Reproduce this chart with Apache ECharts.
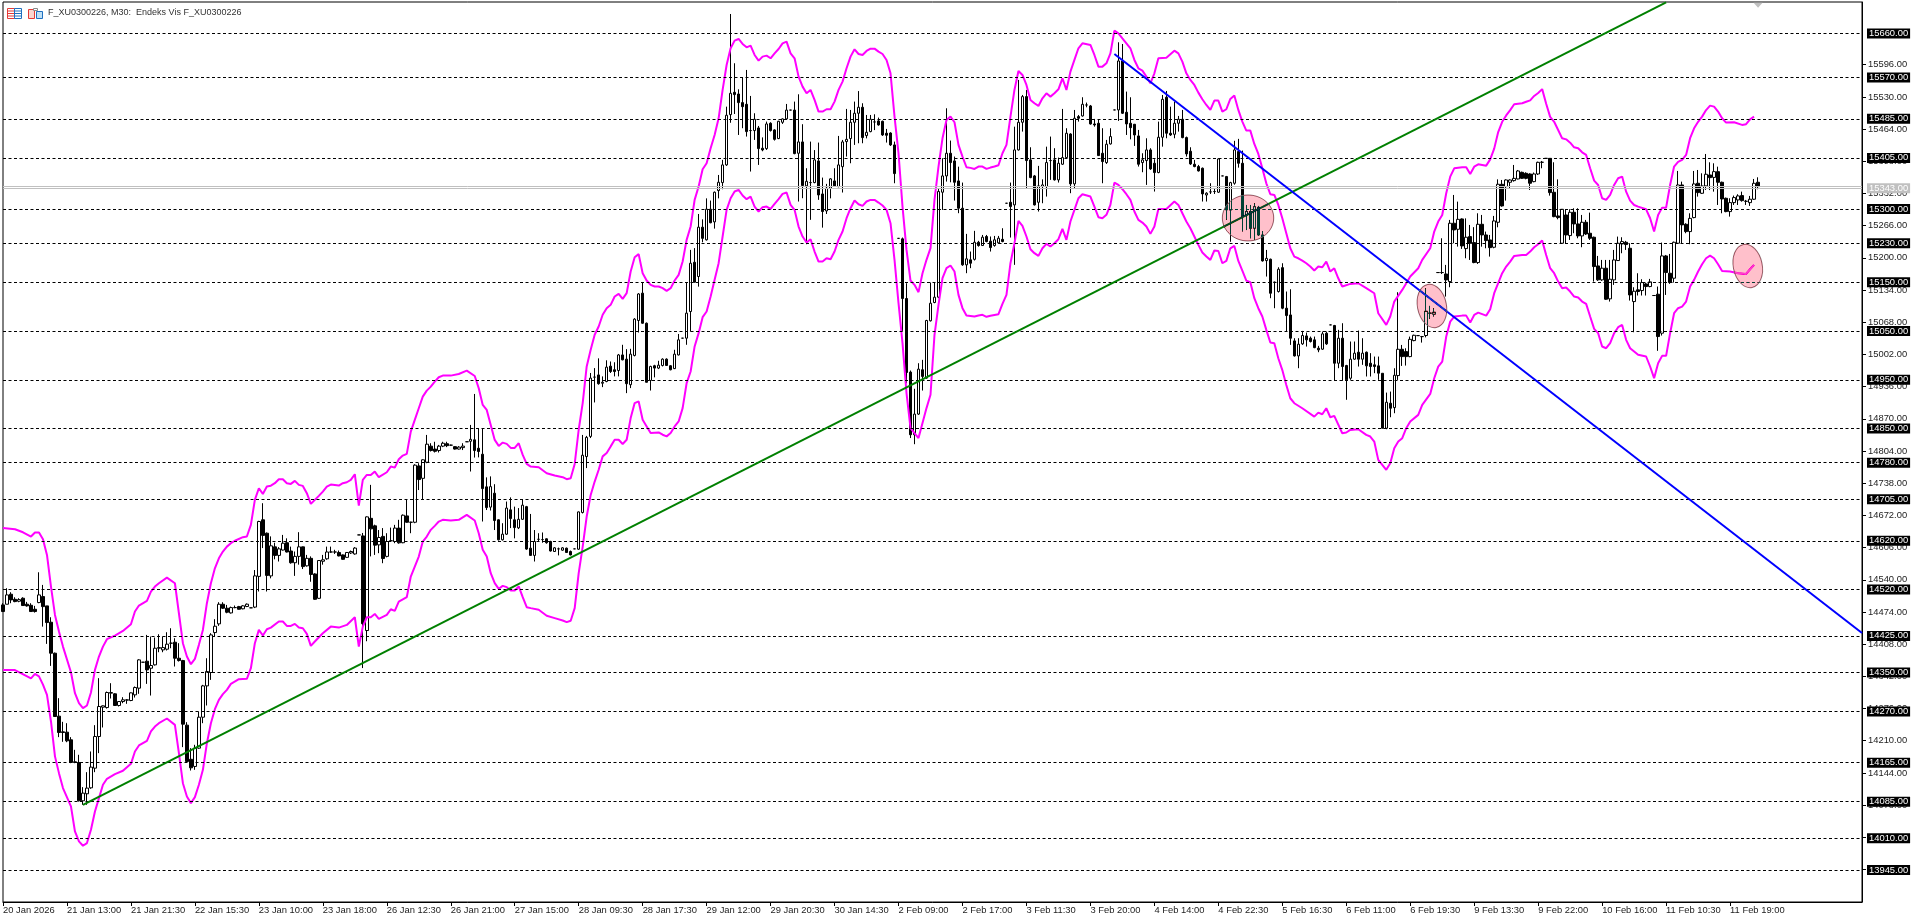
<!DOCTYPE html>
<html>
<head>
<meta charset="utf-8">
<title>F_XU0300226, M30</title>
<style>
  html, body { margin: 0; padding: 0; background: #fff; }
  #chart { width: 1920px; height: 923px; }
</style>
<script src="https://cdn.jsdelivr.net/npm/echarts@6/dist/echarts.min.js"></script>
</head>
<body>
<div id="chart"></div>
<script>
const chartTitle = "F_XU0300226, M30:  Endeks Vis F_XU0300226";

// one label every 16 bars
const timeLabels = [
  "20 Jan 2026", "21 Jan 13:00", "21 Jan 21:30", "22 Jan 15:30", "23 Jan 10:00", "23 Jan 18:00", "26 Jan 12:30",
  "26 Jan 21:00", "27 Jan 15:00", "28 Jan 09:30", "28 Jan 17:30", "29 Jan 12:00", "29 Jan 20:30", "30 Jan 14:30",
  "2 Feb 09:00", "2 Feb 17:00", "3 Feb 11:30", "3 Feb 20:00", "4 Feb 14:00", "4 Feb 22:30", "5 Feb 16:30",
  "6 Feb 11:00", "6 Feb 19:30", "9 Feb 13:30", "9 Feb 22:00", "10 Feb 16:00", "11 Feb 10:30", "11 Feb 19:00",
];

const priceTicks = [
  15596, 15530, 15464, 15398, 15332, 15266, 15200, 15134, 15068, 15002, 14936, 14870, 14804, 14738, 14672,
  14606, 14540, 14474, 14408, 14342, 14276, 14210, 14144, 14078, 14012, 13946,
];

const levels = [
  15660, 15570, 15485, 15405, 15300, 15230, 15150, 15050, 14950, 14850, 14780, 14705, 14620, 14520, 14425,
  14350, 14270, 14165, 14085, 14010, 13945,
];

const bidPrice = 15343;
const askPrice = 15346;

// open, close, low, high
const candles = [
  [14488.5,14474.9,14474,14492],[14489.9,14509,14489.9,14522.7],[14510.4,14498.8,14492,14514.5],[14500,14495.3,14494,14504.2],
  [14496,14499.4,14494,14502.2],[14502.2,14487.2,14487.2,14504.2],[14490,14486.5,14485,14494.7],[14487.8,14474.9,14474.9,14492],
  [14479.6,14474.9,14472.8,14486.5],[14493.3,14509,14492,14555.4],[14505.6,14485,14444,14529.5],[14486.5,14452.3,14408.6,14486.5],
  [14453,14389.5,14363.5,14463.2],[14389.5,14259.7,14259.7,14390.8],[14260.4,14226.9,14217.4,14297.3],[14228.3,14226.9,14207.8,14248.8],
  [14227.6,14209.8,14207,14246],[14211.9,14165.5,14164,14217.4],[14166.8,14165.5,14164,14191.4],[14165.5,14086.9,14085.5,14181.2],
  [14086.9,14102.6,14078.7,14114.9],[14101.3,14112.9,14078.7,14145.6],[14113.5,14155.9,14111.5,14188],[14153.8,14218.7,14145.6,14242],
  [14218.7,14280.2,14184.6,14338.3],[14278.8,14281.6,14237.2,14282.3],[14278.1,14308.9,14276,14310.9],[14307.5,14308.9,14296.6,14328],
  [14306.2,14282.3,14281.6,14307.5],[14282.3,14290.4,14280.2,14291.1],[14290.4,14293.9,14287,14299.3],[14293.2,14293.9,14285.7,14295.2],
  [14292.5,14308.2,14291.1,14308.9],[14304.1,14319.1,14298.6,14321.2],[14317.8,14375.8,14306.2,14377.2],[14371,14371,14371,14371],
  [14373.1,14355.3,14326.6,14427],[14358.7,14364.2,14302.7,14423.6],[14365.6,14399.7,14364.2,14421.6],[14399.7,14401,14391.5,14428.4],
  [14396.3,14401,14391.5,14423.6],[14397.7,14408,14395,14432.5],[14410,14410,14399.7,14440.7],[14412,14379.2,14362.2,14420.2],
  [14379.2,14374.4,14372.4,14410],[14374.4,14244,14196.9,14375.8],[14242,14167.5,14166.1,14248.1],[14172,14154.5,14149,14194.8],
  [14157.3,14194.8,14150.4,14201.7],[14194.8,14258.3,14193.4,14270],[14258.3,14322.5,14246,14324.6],[14322.5,14351.9,14282.3,14379.2],
  [14349.9,14427,14334.8,14430.5],[14431.8,14444.8,14423.6,14459.2],[14449.6,14489.9,14445.5,14494],[14489.9,14481.7,14480.3,14494],
  [14481.7,14473.5,14471.4,14488.5],[14472.1,14483,14470.8,14485],[14483,14483,14481.7,14487.2],[14485,14479.6,14479,14486.5],
  [14480.5,14486.6,14479.5,14488],[14485.3,14490,14484,14491.5],[14482.5,14482.5,14482.5,14482.5],[14484,14548,14482,14560],
  [14547,14659.5,14516,14661],[14663,14631,14605,14697],[14635.5,14549,14516,14637],[14548,14609.6,14543,14629],
  [14607.5,14590,14582,14616],[14590,14603.4,14577.5,14607],[14601,14615,14600,14632],[14616,14597,14596,14625],
  [14599,14575,14573,14608],[14575,14588,14548,14598],[14588,14607.5,14571,14637.6],[14607.5,14567,14562,14608],
  [14568.6,14584,14567,14591],[14584,14551,14536,14588],[14552,14500,14499,14553.5],[14502,14579.5,14501,14580],
  [14578,14581,14571,14591],[14583,14597,14581,14608],[14597,14597,14595.5,14608],[14597,14597,14593,14601.5],
  [14596,14589,14588,14600],[14591,14582,14581,14592],[14586,14596,14585,14597],[14595,14598,14593,14600],
  [14593,14605,14591.5,14607],[14632,14632,14632,14632],[14630,14450,14359,14636],[14436,14669,14414,14670],
  [14666,14644.4,14588,14734.6],[14650.6,14611,14591,14653],[14611.6,14626.7,14594.6,14642],[14629,14583.6,14574,14646],
  [14588,14618.5,14586,14635.5],[14620,14620,14618.5,14647],[14618.5,14646,14615,14652.6],[14646,14615.7,14614,14663],
  [14616,14672.4,14615,14674],[14671,14658,14657,14705],[14658,14658,14635.5,14659],[14658,14775,14656,14777],
  [14773.5,14745.5,14724,14779],[14748,14786,14704,14787],[14781,14818,14779,14837],[14814,14805,14803,14820],
  [14808,14803.5,14801,14823],[14805,14814,14801,14816.5],[14814,14820,14812,14823],[14819,14815,14812,14823],
  [14816,14816,14815,14817],[14813,14808,14807,14814],[14808,14812,14807,14814],[14811,14814,14806,14820],
  [14823,14823,14823,14823],[14824,14828,14762,14857.5],[14827,14805,14790.6,14921],[14809.7,14803,14791,14850.7],
  [14797.4,14727,14659.5,14850.7],[14730.5,14688,14683,14750],[14689,14731,14682,14752],[14717.5,14661.5,14642,14736],
  [14663,14622,14620.5,14664],[14622,14633.5,14620.5,14656],[14633.5,14687,14632,14700.4],[14683.4,14665.6,14646,14709],
  [14663,14647,14625,14690],[14646.5,14664,14644,14687],[14664,14693,14663,14704],[14690,14603,14601.4,14691.5],
  [14604.8,14590,14589,14675],[14590,14618.5,14577.5,14642],[14623,14623,14618,14635.5],[14622.5,14622.5,14616,14637],
  [14624,14616,14614,14625],[14618.5,14599,14598,14620],[14598,14605.5,14597,14607],[14603.4,14603.4,14590,14606],
  [14600.7,14605.5,14599.5,14607],[14604.8,14596,14595,14606],[14598,14591,14590,14600],[14603.4,14603.4,14603.4,14603.4],
  [14602.7,14679.2,14601.5,14680],[14678,14795.4,14676,14837],[14792.6,14832,14769,14835],[14834,14953.5,14830.6,14964],
  [14955.5,14955.5,14903.6,14974],[14960,14942,14940,14994],[14943,14945,14935,14957],[14946.6,14976,14945,14990],
  [14978,14967,14964,14987.6],[14970.6,14967,14957,14986],[14969,15001,14957,15003],[15001,14991,14990,15021.8],
  [14992.4,14942,14922.7,15012.9],[14940,15002.6,14933,15013.6],[15000,15074.4,14998,15076.4],[15071.6,15126,15047,15127.7],
  [15127.7,15066,15065,15150],[15066,14945,14944.6,15067.5],[14948.7,14977.4,14928,14978.8],[14978.8,14974,14955,14980.8],
  [14974,14980,14972,14989],[14979.4,14992.4,14977.4,14994],[14992.4,14979.4,14978.8,14994],[14978.8,14970.6,14969.5,14980],
  [14973,15002.6,14972,15011.6],[15001,15032,15000,15044],[15035.4,15035.4,15035.4,15035.4],[15035.4,15086.7,15021.8,15150],
  [15090,15189,15049,15216.4],[15191,15150,15150,15220],[15161.8,15262.9,15141,15290],[15262.9,15240,15232,15279],
  [15237,15299.8,15235.6,15322],[15299.8,15272,15271,15317.5],[15273.8,15334.6,15260,15336],[15338,15355,15322,15370],
  [15354.4,15390.6,15340.7,15400.9],[15390.6,15492.4,15388.6,15510],[15493.7,15537.4,15477,15700],[15539.5,15534.7,15495,15599],
  [15536,15518.3,15452,15545.6],[15518.3,15510,15465.8,15569.6],[15514.9,15458.9,15448.7,15585.3],[15461,15461,15377,15532],
  [15461,15484.2,15441.8,15496.5],[15466.4,15424,15390.6,15470.5],[15424.8,15421.3,15418.6,15447],[15424,15474.6,15421.3,15479.4],
  [15476,15461,15459,15478],[15462.3,15443,15440.5,15463.7],[15444.6,15480,15443.5,15481],[15478,15484.9,15474.6,15486],
  [15484.9,15503,15484.2,15515.6],[15503,15503,15503,15503],[15503,15413.8,15412.4,15520.4],[15414.5,15437.7,15315.5,15535.4],
  [15437.7,15348.3,15322.3,15474],[15347.6,15357,15228,15383.8],[15354.4,15354.4,15278,15438.4],[15354.4,15400.9,15353,15421],
  [15398.8,15329,15319,15436.4],[15331,15295,15262,15364.6],[15296.3,15342.8,15290,15351.7],[15342.8,15362,15322,15363.3],
  [15357.8,15347.6,15346,15383.8],[15346,15390.6,15344.8,15450],[15387,15437.7,15334,15441.8],[15438.4,15443,15407.7,15505.4],
  [15444.6,15478,15394,15503.3],[15478,15496.5,15431.6,15520.4],[15496.5,15508.8,15435,15542],[15508.8,15446.6,15435,15517],
  [15450.7,15457.5,15445,15493],[15458.9,15484.2,15457.5,15493],[15478.7,15478.7,15462,15494.4],[15480.8,15472.6,15471,15487.6],
  [15480,15452,15450,15481.4],[15455.5,15451.4,15436.4,15464.4],[15456,15431.6,15429.5,15457.5],[15431.6,15372.8,15353,15438.4],
  [15240,15240,15240,15240],[15239,15116.7,15049,15241.7],[15116.7,14965,14943,15148],[14965.8,14837.4,14830.6,14969],
  [14837.4,14879.7,14818,14931.6],[14879.7,14971.9,14878,14984],[14970.6,14956.9,14928,14991],[14953.5,15071.6,14952,15073],
  [15071,15107,15069.6,15149.5],[15108.5,15119.4,15107,15149.5],[15119.4,15336,15117.4,15342.8],[15334.6,15368,15298.4,15404.3],
  [15368,15414.5,15356.4,15506.7],[15414.5,15395.4,15355,15440.5],[15398.8,15355,15317.5,15407.7],[15357.8,15301.8,15291.6,15387],
  [15301.8,15185.7,15183.7,15354.4],[15185.7,15198,15168.6,15249.2],[15196,15189,15178.9,15213],[15197,15232,15194.6,15255.4],
  [15232,15225.3,15223,15234.9],[15225.3,15242.4,15224.6,15247],[15243.8,15233.5,15232,15247],[15234.2,15221.2,15213,15243.8],
  [15225.3,15237,15223,15245],[15230.8,15240.3,15229,15245],[15238,15233.5,15232,15260.8],[15312,15312,15312,15312],
  [15314,15305.2,15241.7,15354.4],[15308.6,15421.3,15185.7,15469],[15421.3,15478,15420,15564.8],[15478,15530.6,15458.9,15534],
  [15530.6,15399.5,15341.4,15544.3],[15400.9,15364.6,15363.3,15426.8],[15368,15308.6,15307.3,15370],[15314,15347.6,15295,15388.6],
  [15346.2,15349.6,15312,15361],[15346.2,15395.4,15325.7,15428],[15399.5,15399.5,15359.9,15448.7],[15400.9,15359.9,15358.5,15424.8],
  [15359.9,15394,15354.4,15405.6],[15392,15405.6,15390.6,15505.4],[15405.6,15455.5,15404.3,15465.8],[15454,15351.7,15332.6,15455.5],
  [15351.7,15486.2,15342.8,15503.3],[15489.6,15486.2,15479.4,15493],[15491,15514.9,15489.6,15529.3],[15513.5,15513.5,15508.7,15518.4],
  [15511.5,15474.6,15473.2,15513.5],[15474.6,15472.6,15469,15484.9],[15476,15409.7,15409,15484.2],[15414.5,15397.4,15353,15465.8],
  [15395.4,15433,15392.6,15441.8],[15433.6,15448.7,15432.3,15465.8],[15503.3,15503.3,15503.3,15503.3],[15503.3,15603.7,15480.8,15642],
  [15603.7,15496.5,15495,15638.5],[15498.5,15474.6,15452,15540.9],[15476,15467,15443,15529.3],[15473.9,15452,15429.5,15474.6],
  [15450,15392,15387.2,15462.3],[15395.4,15400.9,15375.6,15414.5],[15399.5,15421.3,15349.6,15445.2],[15421.3,15382.4,15380.4,15424.8],
  [15394,15374.9,15336,15402.2],[15374.9,15447.3,15373.5,15479.4],[15447.3,15525,15428,15534],[15529.3,15455.5,15445.2,15542.2],
  [15455.5,15452,15450,15510],[15453.4,15476,15445.2,15520.4],[15476,15484.2,15458.9,15491],[15484.2,15446.6,15445.2,15503.3],
  [15446.6,15413.2,15407.7,15448.7],[15418.6,15392.6,15390.6,15426.8],[15392,15387.2,15385.8,15400.9],[15387.2,15378.3,15377,15390.6],
  [15383.8,15331.2,15315.5,15385.2],[15329,15332.6,15315.5,15334.6],[15335.3,15335.3,15331,15353],[15336,15336,15331,15343],
  [15334.6,15402.9,15333.2,15404.3],[15368,15368,15368,15368],[15366.7,15298.4,15278,15368],[15298,15354.3,15233,15356],
  [15353,15421.3,15350,15440],[15418,15394,15385,15444],[15394,15285,15254,15420],[15288,15295,15257,15308.5],
  [15295,15260.7,15240,15308.5],[15260.7,15305,15237,15312],[15303.7,15247,15245,15306.5],[15247,15193.8,15192.4,15255],
  [15194.4,15199,15161.7,15216.3],[15197.2,15127.5,15117.3,15198.5],[15150,15150,15096.8,15151.4],[15131,15176.7,15128.9,15180.8],
  [15180,15096.8,15094.7,15189],[15096.8,15081.7,15049,15131],[15083,15035.3,15021.6,15135.7],[15029.8,14999,14997.7,15035.3],
  [14999,15023,14973.8,15035.3],[15023.7,15040.8,15021.6,15050.3],[15040,15031.9,15018.2,15046.9],[15035.3,15028.5,15026.5,15038.7],
  [15031.9,15016,15014.8,15038.7],[15014.8,15011.4,15006.6,15019.6],[15012.8,15044.2,15011.4,15049],[15045.5,15023.7,15021.6,15049],
  [15062.6,15062.6,15062.6,15062.6],[15061.3,14984,14947.9,15062.6],[14984,15035.3,14973.8,15052.4],[15035.3,14977.2,14947.9,15066],
  [14979.3,14950,14909,14980.7],[14953.3,14992.3,14950,15028.5],[14992.3,15004.6,14991,15028.5],[15006.6,14992.3,14977.2,15051],
  [14992.3,15004.6,14980.7,15035.3],[15006.6,14978.6,14956.8,15008],[14984,14977.2,14956.8,15004.6],[14980.7,14977.2,14963.6,14997.7],
  [14978.6,14963.6,14950,14997.7],[14963.4,14850.7,14850.7,14963.4],[14850.7,14904,14848.7,14923.8],[14902,14891.7,14873.3,14925.9],
  [14893,14959.3,14881.5,14973.7],[14958.7,15012.6,14949.8,15129.6],[15012.6,14997.6,14978.5,15021.5],[15007.8,14997.6,14979.2,15014.7],
  [14997.6,15033,14996.2,15038.6],[15030.4,15041.3,15029,15042.5],[15040.6,15040.6,15040.6,15040.6],[15038.6,15038.6,15026.3,15039.9],
  [15040.8,15090.6,15037,15137.8],[15086.6,15086.6,15075,15101.6],[15084.5,15088.6,15079.7,15096.8],[15169.9,15169.9,15169.9,15169.9],
  [15169.9,15169.9,15167,15240.2],[15167,15154.8,15120.7,15185.6],[15151.4,15271,15139.8,15277.8],[15271,15257.3,15230,15329],
  [15258.6,15279,15223.1,15315.3],[15279.8,15224.5,15218.4,15281],[15219,15242.3,15199.2,15281],[15243.6,15230,15195.8,15267.5],
  [15231.3,15190.4,15189,15263],[15190.4,15268.9,15187.6,15291.4],[15268.9,15247,15223,15288],[15247,15235.4,15219.7,15253.9],
  [15236.8,15221,15202.6,15247],[15221.8,15275.7,15219.7,15286],[15273,15350.9,15262.7,15361],[15350.9,15306.5,15305,15359.7],
  [15346,15359.7,15317.4,15361],[15355,15359.7,15341.3,15361],[15358.4,15363,15356.3,15390.5],[15361.8,15378.2,15361,15380.2],
  [15375.4,15363.1,15362,15376.8],[15373.4,15363,15361,15375.4],[15372,15353,15339.2,15373.4],[15356.3,15372,15355,15375],
  [15372,15395.9,15370,15397.3],[15396,15396,15383.7,15398.7],[15404,15404,15404,15404],[15404,15333.8,15327.6,15404],
  [15334.5,15284.6,15283.3,15396],[15286,15282.6,15279,15361],[15230,15299.6,15230,15299.6],[15288,15247,15230,15299.6],
  [15245.7,15293.5,15236.8,15299.6],[15293.5,15269.6,15250.5,15301.7],[15269.6,15245,15240.2,15301.7],[15245,15273,15221.8,15288],
  [15273,15249,15247,15277.8],[15250.5,15240.2,15236.8,15292.8],[15242.3,15182.2,15151.4,15243.6],[15183.5,15154.9,15152.8,15204],
  [15154.9,15178.8,15152.8,15195.8],[15178.8,15115.2,15113.9,15195.8],[15116,15156.2,15110.4,15195.8],[15154.9,15195.8,15144.6,15216.3],
  [15194.5,15230,15193.8,15243.6],[15228.6,15233.4,15209.5,15242.3],[15232,15227.3,15216.3,15234.8],[15219.7,15124,15112.5,15230],
  [15110.4,15131.6,15047.6,15139.8],[15134.4,15131,15122.8,15168.5],[15133,15149.4,15122.8,15156.2],[15146.6,15141.2,15122.8,15149.4],
  [15141.2,15150.8,15139.8,15156.9],[15122.8,15122.8,15122.8,15122.8],[15125.5,15038.7,15009.4,15141.2],[15045.6,15204,15040.8,15231.3],
  [15204,15169.9,15124,15206],[15168.5,15149.4,15146.7,15208.1],[15158.3,15232,15149.4,15233.4],[15230,15349.5,15228.6,15378.2],
  [15349.5,15267.6,15230,15356.3],[15268.9,15253.9,15250.5,15271],[15253.9,15281,15228,15291.4],[15282.6,15351.6,15281.2,15378.2],
  [15353,15333.8,15325.6,15380.2],[15332.4,15347.5,15331,15373.4],[15347.5,15371.4,15339.3,15413],[15370,15364.5,15339,15396],
  [15365,15376.8,15335.8,15393.9],[15376.8,15355,15308.5,15387],[15355,15320.8,15291.4,15356.3],[15322.2,15294.9,15293.5,15323.6],
  [15294.9,15313.3,15284.6,15322.2],[15313.3,15323.6,15308.5,15327.7],[15318.8,15327,15308.5,15330.4],[15327.7,15317.4,15315.3,15335.8],
  [15316,15316,15308.5,15318.8],[15313.3,15320.2,15306.5,15327],[15320.2,15352.9,15318.8,15361.8],[15355,15346,15340.6,15365.2],
];

// bar index, price at the line's vertices
const upperBand = [
  [0,14646.3],[3,14643.6],[5,14637.4],[7,14628.6],[8,14636.8],[9,14636.8],[10,14623.1],[11,14591],[12,14526],[13,14468],[14,14433.9],
  [15,14403],[17,14350.5],[18,14307.5],[19,14287],[20,14276.8],[21,14282.3],[22,14308.9],[23,14355.3],[24,14382.6],[25,14403],
  [26,14418.2],[28,14425.7],[30,14435.2],[32,14448.9],[33,14474.9],[34,14487.2],[36,14496.7],[37,14515.8],[38,14526.1],[39,14532.9],
  [41,14544.5],[43,14532.9],[44,14471.4],[45,14410],[46,14382.6],[47,14367],[48,14377.9],[49,14406.6],[50,14437.3],[51,14492],
  [52,14532.9],[53,14563.6],[54,14584.1],[55,14597.8],[56,14608],[57,14615],[58,14620],[60,14627.3],[61,14628.7],[62,14652.6],
  [63,14703.8],[64,14727.7],[65,14716],[66,14731.2],[67,14733],[68,14738],[69,14746.2],[70,14746.2],[71,14738],[72,14736.6],
  [73,14742.8],[74,14734.6],[75,14732.5],[76,14717.5],[77,14695.6],[78,14703.8],[79,14712],[80,14720.9],[81,14731.2],[82,14735.3],
  [84,14733.2],[85,14738],[86,14740],[87,14744.8],[88,14756.4],[89,14692.2],[90,14744.8],[91,14755],[92,14755],[93,14761.9],
  [94,14750.3],[96,14760.5],[97,14772.1],[98,14770],[99,14787.2],[100,14794.7],[101,14798.1],[102,14843.9],[103,14867.8],[104,14891.7],
  [105,14915.6],[106,14927.9],[107,14936],[108,14946.3],[109,14955.2],[110,14958.6],[112,14958.6],[114,14962],[116,14968.8],[118,14957.9],
  [119,14932.6],[120,14898.5],[121,14888.3],[122,14857.5],[123,14826.8],[124,14814.5],[125,14821.3],[126,14818.6],[127,14810.4],[128,14810.4],
  [129,14820],[130,14796],[131,14777.6],[132,14772.1],[134,14770.8],[136,14758.5],[138,14753.7],[140,14750.3],[141,14746.2],[142,14748.2],
  [143,14777.6],[144,14847.6],[145,14902.3],[146,14977.4],[147,15011.5],[148,15042.3],[149,15059.4],[150,15083.3],[151,15096.9],[152,15103.7],
  [153,15120.8],[154,15126.3],[155,15116],[156,15127.6],[157,15172.1],[158,15201.4],[159,15207.6],[160,15168.6],[161,15153.6],[162,15144.7],
  [163,15141.3],[164,15141.3],[165,15137.9],[166,15132.4],[167,15137.9],[168,15153.6],[169,15165.2],[170,15192.5],[171,15236.9],[172,15264.3],
  [173,15318.9],[174,15346.2],[175,15381.7],[176,15394],[177,15424.8],[178,15452],[179,15486.2],[180,15544.3],[181,15595.5],[182,15629.7],
  [183,15645.4],[184,15648.8],[185,15638.5],[186,15631.7],[187,15635.1],[188,15616],[189,15604.4],[190,15612.6],[191,15614.6],[192,15609.2],
  [193,15619.4],[194,15628.3],[195,15639.9],[196,15643.3],[197,15619.4],[198,15609.2],[199,15571.6],[200,15551.1],[201,15537.4],[202,15544.3],
  [203,15523.8],[204,15499.9],[205,15499.9],[206,15504.7],[207,15504.7],[208,15520.4],[209,15544.3],[210,15561.4],[211,15588.7],[212,15612.6],
  [213,15627.6],[214,15618],[215,15616],[216,15624.2],[217,15629],[218,15629],[219,15622.8],[220,15618],[221,15605.8],[222,15578.4],
  [223,15489.6],[224,15414.5],[225,15305.2],[226,15216.4],[227,15153.6],[228,15144.7],[229,15129.7],[230,15168.6],[231,15196],[232,15219.9],
  [233,15318.9],[234,15387.2],[235,15445.2],[236,15482.8],[237,15489.6],[238,15478],[239,15431.6],[240,15407.7],[241,15385.8],[242,15384.5],
  [243,15382.4],[244,15387.2],[245,15387.2],[246,15382.4],[247,15385.1],[248,15387.2],[249,15389.9],[250,15414.5],[251,15431.6],[252,15489.6],
  [253,15544.3],[254,15583.2],[255,15575],[256,15554.5],[257,15523.8],[258,15517],[259,15511.5],[260,15527.2],[261,15537.4],[262,15530.6],
  [263,15537.4],[264,15545.6],[265,15568.2],[266,15544.3],[267,15581.8],[268,15605.8],[269,15629.7],[270,15639.9],[272,15636.5],[273,15616],
  [274,15592.1],[275,15592.1],[276,15598.9],[277,15619.4],[278,15665.9],[279,15660.4],[280,15650.1],[281,15639.9],[282,15629.7],[283,15605.8],
  [284,15588.7],[285,15583.9],[286,15571.6],[287,15558],[288,15578.4],[289,15609.2],[291,15610.5],[293,15624.9],[294,15619.4],[295,15602.3],
  [296,15578.4],[297,15564.8],[298,15554.5],[299,15538.8],[300,15525.2],[301,15513.5],[302,15503.3],[303,15522.4],[304,15522.4],[305,15499.9],
  [306,15504.7],[307,15525.8],[308,15532.7],[309,15503.3],[310,15479.4],[311,15460.9],[312,15460.9],[313,15433.6],[314,15413],[315,15383.8],
  [316,15352.9],[317,15330.4],[318,15329],[319,15308.5],[320,15281.2],[321,15250.5],[322,15219.7],[323,15202.6],[324,15199.2],[325,15194.4],
  [326,15189],[327,15182.2],[328,15174],[329,15182.2],[330,15180.8],[331,15192.4],[332,15171.9],[333,15178.7],[334,15158.2],[335,15141.2],
  [337,15146.6],[339,15148],[341,15137.8],[343,15127.5],[344,15086.5],[346,15062.6],[347,15079.7],[348,15110.4],[350,15134.3],[351,15148],
  [352,15161.7],[354,15178.7],[355,15195.8],[357,15219.7],[358,15253.9],[359,15274.4],[360,15288],[361,15332.4],[362,15366.6],[363,15383.6],
  [365,15385.7],[366,15385.7],[367,15372],[368,15387],[369,15391.8],[371,15389.1],[372,15402],[373,15424],[374,15458],[375,15479],
  [376,15492],[377,15503],[378,15515],[380,15517],[381,15520],[382,15523],[383,15532],[384,15538],[385,15546],[386,15516],
  [387,15489],[388,15479],[389,15462.2],[390,15445.1],[391,15443],[392,15436.2],[393,15426.7],[394,15424.6],[395,15416.4],[396,15411],
  [397,15383.7],[398,15358.4],[399,15349.5],[400,15322.2],[401,15318.8],[402,15329],[403,15349.5],[404,15363.2],[405,15366.6],[406,15335.8],
  [407,15317.4],[408,15308.5],[409,15305.1],[411,15299.6],[412,15281.2],[413,15253.9],[414,15288],[415,15303],[416,15303],[417,15349.5],
  [418,15387.2],[419,15397],[420,15400.9],[421,15411.1],[422,15445.3],[423,15465.7],[424,15479],[425,15489.6],[426,15503],[427,15512.2],
  [428,15510.1],[429,15500],[430,15486.2],[431,15477.4],[433,15478],[435,15472.6],[436,15474],[437,15484],[438,15489.6],
];

const lowerBand = [
  [0,14355.3],[3,14355],[7,14338],[8,14347],[9,14342],[10,14325],[11,14304],[12,14249.5],[13,14178],[14,14143.6],[15,14112.9],
  [17,14075.3],[18,14024],[19,14003.6],[20,13994.7],[21,14000.2],[22,14027.5],[23,14065],[24,14092.4],[25,14119.7],[26,14132],
  [28,14141.5],[30,14148.4],[32,14162.7],[33,14188],[34,14200.3],[36,14209.8],[37,14229],[38,14239.2],[39,14246],[41,14255.6],
  [43,14242.6],[44,14184.6],[45,14123],[46,14095.8],[47,14082.1],[48,14094.4],[49,14119.7],[50,14150.4],[51,14205],[52,14246],
  [53,14274.7],[54,14293.9],[55,14305.5],[56,14314.4],[57,14326.6],[59,14336.2],[61,14336.9],[62,14358.7],[63,14410],[64,14437.3],
  [65,14425.7],[66,14438.7],[67,14442],[69,14454.4],[70,14454.4],[71,14445.5],[72,14445.5],[73,14449.6],[74,14442],[75,14440.7],
  [76,14429],[77,14404.5],[78,14413.4],[80,14430.5],[82,14444],[84,14442],[86,14447.5],[88,14463.2],[89,14403],[90,14444],
  [91,14463.2],[92,14463.2],[93,14470],[94,14459.8],[96,14468],[97,14479.6],[98,14476.2],[99,14495.3],[101,14504.4],[102,14546.7],
  [103,14567.2],[104,14587.7],[105,14618.5],[106,14628.7],[107,14642.4],[108,14650.6],[109,14659.4],[110,14662.9],[112,14661.5],[114,14662.9],
  [116,14673.1],[118,14661.5],[119,14635.5],[120,14601.4],[121,14587.7],[122,14553.6],[123,14533],[124,14521.5],[125,14527.6],[126,14524.9],
  [127,14518],[128,14518],[129,14526.3],[130,14504.4],[131,14483.9],[132,14481.9],[134,14478.5],[136,14466.2],[138,14461.4],[140,14456.6],
  [141,14453.2],[142,14455.9],[143,14481.9],[144,14553.6],[145,14608.2],[146,14669.7],[147,14714],[148,14741.4],[149,14765.7],[150,14793],
  [151,14799.8],[152,14813.5],[153,14827.1],[154,14827.1],[155,14818.3],[156,14827.1],[157,14871.5],[158,14902.3],[159,14905.7],[160,14868.1],
  [161,14854.5],[162,14840.8],[164,14842.2],[165,14837.4],[166,14834],[167,14840.8],[168,14854.5],[169,14864.7],[170,14892],[171,14943.2],
  [172,14967.1],[173,15018.4],[174,15045.7],[175,15078.5],[176,15090.1],[177,15120.8],[178,15155],[179,15189.1],[180,15243.8],[181,15298.4],
  [182,15322.3],[183,15336],[184,15339.4],[185,15327.8],[186,15320.3],[187,15325.7],[188,15305.2],[189,15295],[190,15303.9],[191,15305.2],
  [192,15300.4],[193,15310.7],[194,15320.3],[195,15331.2],[196,15333.9],[197,15308.6],[198,15298.4],[199,15264.2],[200,15243.8],[201,15231.5],
  [202,15238.3],[203,15213],[204,15192.5],[205,15192.5],[206,15199.4],[207,15197.3],[208,15213],[209,15236.9],[210,15254],[211,15281.3],
  [212,15301.8],[213,15317.5],[214,15310],[215,15306.6],[216,15315.5],[217,15318.9],[218,15318.9],[219,15313.4],[220,15307.3],[221,15298.4],
  [222,15271.1],[223,15195.9],[224,15107.2],[225,15025.2],[226,14922.8],[227,14851],[228,14840.8],[229,14830.5],[230,14861.3],[231,14892],
  [232,14919.3],[233,15042.3],[234,15103.7],[235,15158.4],[236,15178.9],[237,15184.3],[238,15172],[239,15124.2],[240,15096.9],[241,15081.9],
  [243,15079.8],[244,15081.9],[245,15083.3],[246,15079.2],[247,15081.2],[249,15084.6],[250,15105.8],[251,15124.2],[252,15189.1],[253,15230.1],
  [254,15275.9],[255,15265.6],[256,15243.8],[257,15217.8],[258,15209.6],[259,15204.1],[260,15219.8],[261,15228.7],[262,15223.3],[263,15230.1],
  [264,15238.3],[265,15259.5],[266,15236.9],[267,15274.5],[268,15298.4],[269,15322.3],[270,15330.5],[272,15325.7],[273,15305.2],[274,15283.4],
  [275,15281.3],[276,15288.2],[277,15308.6],[278,15354.4],[279,15349.6],[280,15340.7],[281,15330.5],[282,15318.9],[283,15295],[284,15277.9],
  [285,15272.4],[286,15264.2],[287,15249.2],[288,15264.2],[289,15300.4],[291,15300.4],[293,15315.5],[294,15308.6],[295,15291.6],[296,15274.5],
  [297,15260.8],[298,15243.8],[299,15226.7],[300,15211],[301,15202.8],[302,15195.9],[303,15215.1],[304,15214.2],[305,15189],[306,15193.8],
  [307,15219.7],[308,15224.5],[309,15193.8],[310,15174],[311,15153.5],[312,15150],[313,15117.3],[314,15096.8],[315,15079.7],[316,15052.4],
  [317,15026.4],[318,15025],[319,14994.3],[320,14970],[321,14939.5],[322,14912.2],[323,14902],[325,14891.7],[328,14874.6],[329,14882.8],
  [330,14879.4],[331,14891.7],[332,14873.3],[333,14876],[335,14840.5],[336,14841.9],[337,14847.3],[339,14848.7],[341,14837],[342,14833.7],
  [343,14823.4],[344,14785.9],[346,14765.4],[347,14779],[348,14809.8],[349,14823.4],[350,14830.3],[351,14850.7],[352,14864.4],[354,14878.1],
  [355,14898.5],[357,14921.1],[358,14953.2],[359,14977.1],[360,14987.3],[361,15038.6],[362,15069.3],[363,15079.6],[365,15081.6],[366,15081.6],
  [367,15067.3],[368,15083],[369,15087.8],[371,15081.6],[372,15094.6],[373,15127.5],[374,15148],[375,15168.5],[376,15182.2],[377,15192.4],
  [378,15204],[380,15206],[381,15206],[382,15212.9],[383,15221.8],[384,15227.9],[385,15235.4],[386,15206],[387,15178.8],[388,15168.5],
  [389,15151.4],[390,15137.8],[391,15139.1],[392,15130.9],[393,15120.7],[394,15118.7],[395,15110.5],[396,15105.7],[397,15079.7],[398,15054.4],
  [399,15045.6],[400,15018.2],[401,15014.8],[402,15025.1],[403,15045.6],[404,15057.9],[405,15062.6],[406,15031.9],[407,15014.8],[409,15001.2],
  [411,14997.8],[412,14977.3],[413,14953.4],[414,14984],[415,14999.1],[416,14999.1],[417,15045.6],[418,15086.6],[419,15096.8],[420,15100.2],
  [421,15110.5],[422,15141.2],[423,15154.9],[424,15172],[425,15187],[426,15199.3],[427,15204.7],[428,15199.3],[429,15187],[430,15173.3],
  [432,15172],[434,15168.5],[436,15167.1],[437,15176.7],[438,15185.6],
];

const greenTrend = [[20, 14078.4], [416, 15724]];
const blueTrend = [[278, 15618], [465, 14431]];

// pink highlight ellipses: bar, price
const highlightSpots = [[311, 15281.8], [357, 15101.4], [436, 15183.4]];

const barSlots = Array.from({ length: 466 }, (_, i) => i);
const lastLabelBar = (timeLabels.length - 1) * 16;
const showEverySixteenth = (index) => index % 16 === 0 && index <= lastLabelBar;

const fontFamily = "Liberation Sans";
const axisFontSize = 9.4;
const chart = echarts.init(document.getElementById("chart"), null, { renderer: "canvas" });

chart.setOption({
  animation: false,
  backgroundColor: "#ffffff",
  title: {
    text: chartTitle,
    left: 48,
    top: 8,
    padding: 0,
    textStyle: { fontFamily, fontSize: 9, fontWeight: "normal", color: "#333333" },
  },
  grid: {
    left: 2,
    top: 2,
    width: 1860,
    height: 900,
    show: true,
    borderColor: "#000000",
    borderWidth: 1,
    backgroundColor: "#ffffff",
  },
  xAxis: {
    type: "category",
    data: barSlots,
    boundaryGap: false,
    axisLine: { lineStyle: { color: "#000000", width: 1 } },
    axisTick: { length: 4, interval: showEverySixteenth, lineStyle: { color: "#000000" } },
    axisLabel: {
      interval: showEverySixteenth,
      formatter: (value) => timeLabels[Number(value) / 16] || "",
      align: "left",
      margin: 4,
      color: "#222222",
      fontFamily,
      fontSize: axisFontSize,
    },
    splitLine: { show: false },
  },
  yAxis: {
    type: "value",
    position: "right",
    min: 13879.4,
    max: 15724.6,
    scale: true,
    axisLine: { show: true, lineStyle: { color: "#000000", width: 1 } },
    axisTick: { show: true, length: 4, customValues: priceTicks, lineStyle: { color: "#000000" } },
    axisLabel: {
      customValues: priceTicks,
      formatter: (value) => value.toFixed(2),
      margin: 6,
      color: "#222222",
      fontFamily,
      fontSize: axisFontSize,
    },
    splitLine: { show: false },
  },
  graphic: [
    // chart window icons next to the title
    { type: "rect", shape: { x: 7.5, y: 8.5, width: 7, height: 10 }, style: { fill: "#fff", stroke: "#e53935", lineWidth: 1 } },
    { type: "rect", shape: { x: 14.5, y: 8.5, width: 7, height: 10 }, style: { fill: "#fff", stroke: "#1e6fc0", lineWidth: 1 } },
    { type: "line", shape: { x1: 8, y1: 11, x2: 14, y2: 11 }, style: { stroke: "#e53935" } },
    { type: "line", shape: { x1: 8, y1: 13.5, x2: 14, y2: 13.5 }, style: { stroke: "#e53935" } },
    { type: "line", shape: { x1: 8, y1: 16, x2: 14, y2: 16 }, style: { stroke: "#e53935" } },
    { type: "line", shape: { x1: 15, y1: 11, x2: 21, y2: 11 }, style: { stroke: "#1e6fc0" } },
    { type: "line", shape: { x1: 15, y1: 13.5, x2: 21, y2: 13.5 }, style: { stroke: "#1e6fc0" } },
    { type: "line", shape: { x1: 15, y1: 16, x2: 21, y2: 16 }, style: { stroke: "#1e6fc0" } },
    { type: "rect", shape: { x: 28.5, y: 9.5, width: 6, height: 9 }, style: { fill: "#fbd5cf", stroke: "#e53935", lineWidth: 1 } },
    { type: "rect", shape: { x: 36.5, y: 11.5, width: 6, height: 7 }, style: { fill: "#bfe0f5", stroke: "#1e6fc0", lineWidth: 1 } },
    { type: "rect", shape: { x: 33.5, y: 8.5, width: 4, height: 2 }, style: { fill: "#fff", stroke: "#888888", lineWidth: 1 } },
  ],
  series: [
    {
      name: "levels",
      type: "line",
      data: [],
      z: 1,
      silent: true,
      markLine: {
        silent: true,
        symbol: ["none", "none"],
        animation: false,
        precision: 2,
        lineStyle: { color: "#000000", width: 1, type: [3, 2.5] },
        label: {
          show: true,
          position: "end",
          distance: 5,
          formatter: (p) => Number(p.value).toFixed(2),
          backgroundColor: "#000000",
          color: "#ffffff",
          padding: [1, 2, 0, 2],
          fontFamily,
          fontSize: axisFontSize,
        },
        data: levels.map((v) => ({ yAxis: v })),
      },
    },
    {
      name: "quote",
      type: "line",
      data: [],
      z: 1,
      silent: true,
      markLine: {
        silent: true,
        symbol: ["none", "none"],
        animation: false,
        precision: 2,
        lineStyle: { color: "#c0c0c0", width: 1, type: "solid" },
        label: { show: false },
        data: [
          { yAxis: askPrice },
          {
            yAxis: bidPrice,
            label: {
              show: true,
              position: "end",
              distance: 5,
              formatter: (p) => Number(p.value).toFixed(2),
              backgroundColor: "#c0c0c0",
              color: "#ffffff",
              padding: [1, 2, 0, 2],
              fontFamily,
              fontSize: axisFontSize,
            },
          },
        ],
      },
    },
    {
      name: "F_XU0300226",
      type: "candlestick",
      data: candles,
      barWidth: 3,
      z: 3,
      itemStyle: {
        color: "#ffffff",
        color0: "#000000",
        borderColor: "#000000",
        borderColor0: "#000000",
        borderColorDoji: "#000000",
        borderWidth: 1,
      },
      markPoint: {
        silent: true,
        animation: false,
        symbol: "triangle",
        symbolRotate: 180,
        symbolSize: [9, 5],
        itemStyle: { color: "#c0c0c0" },
        label: { show: false },
        data: [{ coord: [439, 15718] }],
      },
    },
    {
      name: "upper",
      type: "line",
      data: upperBand,
      z: 4,
      showSymbol: false,
      lineStyle: { color: "#ff00ff", width: 2 },
    },
    {
      name: "lower",
      type: "line",
      data: lowerBand,
      z: 4,
      showSymbol: false,
      lineStyle: { color: "#ff00ff", width: 2 },
    },
    {
      name: "support",
      type: "line",
      data: greenTrend,
      z: 5,
      showSymbol: false,
      lineStyle: { color: "#008000", width: 2 },
    },
    {
      name: "resistance",
      type: "line",
      data: blueTrend,
      z: 5,
      showSymbol: false,
      lineStyle: { color: "#0000ff", width: 2 },
    },
  ],
});

// the highlights invert what lies under them: pink on white, dark teal on black
const spotRadii = [[25.7, 23, 0], [14.5, 22, 0.2], [14.5, 22, 0.2]];
highlightSpots.forEach((spot, i) => {
  const center = chart.convertToPixel({ gridIndex: 0 }, spot);
  chart.getZr().add(new echarts.graphic.Ellipse({
    x: center[0] + 1.7,
    y: center[1],
    rotation: spotRadii[i][2],
    z: 100,
    silent: true,
    shape: { cx: 0, cy: 0, rx: spotRadii[i][0], ry: spotRadii[i][1] },
    style: { fill: "rgb(0,63,52)", stroke: "rgb(105,135,130)", lineWidth: 1, blend: "difference" },
  }));
});
</script>
</body>
</html>
